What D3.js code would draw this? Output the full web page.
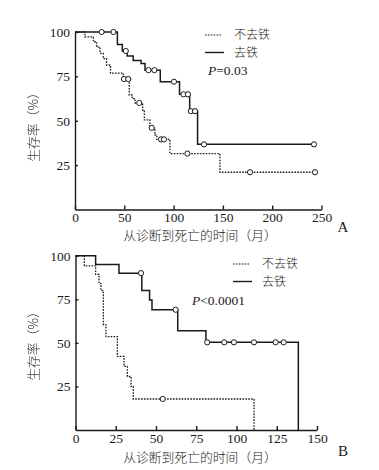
<!DOCTYPE html>
<html>
<head>
<meta charset="utf-8">
<script src="https://cdn.jsdelivr.net/npm/d3@7"></script>
<style>
  body { margin: 0; background: #fff; }
  svg text { fill: #1a1a1a; }
  .num { font-family: "Liberation Serif", "DejaVu Serif", serif; font-size: 13.5px; }
  .cjk { font-family: "Noto Sans CJK SC", sans-serif; font-size: 12.8px; font-weight: 300; }
  .legend { font-size: 12px; }
  .axis path, .axis line { stroke: #1a1a1a; stroke-width: 1.4; }
</style>
</head>
<body>
<svg id="chart" width="379" height="470"></svg>
<script>
// panel A: survival (%) step curves, times in months
var aNoTimes = [0, 10, 18.6, 22, 25.4, 28.7, 32, 36, 49, 55, 58, 61, 68.6, 70.3, 76, 81, 83, 96.3, 147];
var aNoSurv = [100, 97.3, 94.5, 91.5, 88, 85, 81.4, 76.8, 73.5, 64.5, 62.5, 60, 56, 50.5, 46, 42, 39.5, 31.5, 21];
var aNoEnd = 243.4;
var aNoCensor = [49.7, 54, 65.2, 77.8, 87.2, 90.2, 114, 177.5, 243.4];

var aIronTimes = [0, 43, 48, 53, 59, 67, 71, 86.5, 106, 116.3, 124.3];
var aIronSurv = [100, 93, 89.3, 86.5, 84, 82.3, 78.5, 72, 64.9, 55.4, 36.7];
var aIronEnd = 242.4;
var aIronCensor = [27, 39, 51.5, 74.5, 80.5, 100.4, 110, 114.5, 117.5, 121.7, 130.8, 242.4];

// panel B
var bNoTimes = [0, 5.5, 12.5, 14.6, 15.8, 17.3, 18.9, 26, 30.1, 32.2, 34.5, 35.9, 110.9];
var bNoSurv = [100, 94.2, 89.3, 84, 80, 60.3, 53.6, 42.2, 36.5, 30.7, 25, 17.8, 0];
var bNoCensor = [54.2];

var bIronTimes = [0, 12.5, 27, 41.2, 46, 47.5, 63.5, 81, 138.4];
var bIronSurv = [100, 95, 90, 80, 74.6, 69, 57, 50.3, 0];
var bIronCensor = [40.7, 62.2, 81.8, 92.4, 98.4, 110.9, 124.3, 129.3];

var yTicks = [25, 50, 75, 100];
var aXTicks = [0, 50, 100, 150, 200, 250];
var bXTicks = [0, 25, 50, 75, 100, 125, 150];

var legendLabels = ['不去铁', '去铁'];
var xTitle = '从诊断到死亡的时间（月）';
var yTitle = '生存率（%）';

var svg = d3.select('#chart');

// plain pass-through filter so the rotated title is drawn in grey, not with colour fringes
svg.append('defs').append('filter')
    .attr('id', 'flat')
    .append('feOffset').attr('dx', 0).attr('dy', 0);

function survAt(times, surv, t) {
    var s = surv[0];
    for (var i = 0; i < times.length; i++) {
        if (times[i] <= t) s = surv[i];
    }
    return s;
}

function stepPoints(times, surv, end) {
    var pts = times.map(function (t, i) { return [t, surv[i]]; });
    if (end !== undefined) pts.push([end, surv[surv.length - 1]]);
    return pts;
}

function drawPanel(p) {
    var x = d3.scaleLinear().domain([0, p.xMax]).range([p.left, p.right]);
    var y = d3.scaleLinear().domain([0, 100]).range([p.bottom, p.top]);
    var g = svg.append('g');

    g.append('g')
        .attr('class', 'axis num')
        .attr('transform', 'translate(0,' + p.bottom + ')')
        .call(d3.axisBottom(x).tickValues(p.xTicks).tickSize(-4).tickPadding(3).tickSizeOuter(0))
        .call(function (a) { a.selectAll('text').attr('font-family', null).attr('font-size', null); });

    g.append('g')
        .attr('class', 'axis num')
        .attr('transform', 'translate(' + p.left + ',0)')
        .call(d3.axisLeft(y).tickValues(yTicks).tickSize(-3).tickPadding(5).tickSizeOuter(0))
        .call(function (a) { a.selectAll('text').attr('font-family', null).attr('font-size', null); });

    var line = d3.line()
        .x(function (d) { return x(d[0]); })
        .y(function (d) { return y(d[1]); })
        .curve(d3.curveStepAfter);

    var series = [
        {pts: stepPoints(p.noTimes, p.noSurv, p.noEnd), censor: p.noCensor, times: p.noTimes, surv: p.noSurv, dash: '1.6,1.3', w: 1.3},
        {pts: stepPoints(p.ironTimes, p.ironSurv, p.ironEnd), censor: p.ironCensor, times: p.ironTimes, surv: p.ironSurv, dash: null, w: 1.5}
    ];

    series.forEach(function (s) {
        g.append('path')
            .attr('d', line(s.pts))
            .attr('fill', 'none')
            .attr('stroke', '#1a1a1a')
            .attr('stroke-width', s.w)
            .attr('stroke-dasharray', s.dash);
    });

    series.forEach(function (s) {
        g.selectAll(null)
            .data(s.censor)
            .enter().append('circle')
            .attr('cx', function (t) { return x(t); })
            .attr('cy', function (t) { return y(survAt(s.times, s.surv, t)); })
            .attr('r', 2.6)
            .attr('fill', '#fff')
            .attr('stroke', '#1a1a1a')
            .attr('stroke-width', 1);
    });

    // legend
    g.append('line')
        .attr('x1', p.legX).attr('x2', p.legX + 17)
        .attr('y1', p.legY).attr('y2', p.legY)
        .attr('stroke', '#1a1a1a').attr('stroke-width', 1.2).attr('stroke-dasharray', '1.6,1.3');
    g.append('line')
        .attr('x1', p.legX).attr('x2', p.legX + 19)
        .attr('y1', p.legY + 17.5).attr('y2', p.legY + 17.5)
        .attr('stroke', '#1a1a1a').attr('stroke-width', 1.4);
    legendLabels.forEach(function (lab, i) {
        g.append('text')
            .attr('class', 'cjk legend')
            .attr('x', p.legX + 29)
            .attr('y', p.legY + i * 17.5 + 4.3)
            .text(lab);
    });

    var pt = g.append('text')
        .attr('class', 'num')
        .attr('x', p.pX)
        .attr('y', p.pY);
    pt.append('tspan').attr('font-style', 'italic').text('P');
    pt.append('tspan').text(p.pText);

    g.append('text')
        .attr('class', 'cjk')
        .attr('x', 200)
        .attr('y', p.bottom + p.titleDy)
        .attr('text-anchor', 'middle')
        .text(xTitle);

    g.append('text')
        .attr('class', 'cjk')
        .attr('filter', 'url(#flat)')
        .attr('transform', 'translate(38,' + p.yTitleY + ') rotate(-90)')
        .attr('text-anchor', 'middle')
        .text(yTitle);

    g.append('text')
        .attr('class', 'num')
        .style('font-size', '15px')
        .attr('x', 343)
        .attr('y', p.bottom + p.panelLabelDy)
        .attr('text-anchor', 'middle')
        .text(p.panelLabel);
}

drawPanel({
    left: 75, right: 321.5, top: 32, bottom: 209.5, xMax: 250, xTicks: aXTicks,
    noTimes: aNoTimes, noSurv: aNoSurv, noEnd: aNoEnd, noCensor: aNoCensor,
    ironTimes: aIronTimes, ironSurv: aIronSurv, ironEnd: aIronEnd, ironCensor: aIronCensor,
    legX: 205, legY: 35, pX: 208, pY: 75, pText: '=0.03',
    titleDy: 30, yTitleY: 124, panelLabel: 'A', panelLabelDy: 22
});

drawPanel({
    left: 75.5, right: 317, top: 255.7, bottom: 430, xMax: 150, xTicks: bXTicks,
    noTimes: bNoTimes, noSurv: bNoSurv, noCensor: bNoCensor,
    ironTimes: bIronTimes, ironSurv: bIronSurv, ironCensor: bIronCensor,
    legX: 233, legY: 264, pX: 192, pY: 305, pText: '<0.0001',
    titleDy: 32, yTitleY: 343, panelLabel: 'B', panelLabelDy: 26
});
</script>
</body>
</html>
